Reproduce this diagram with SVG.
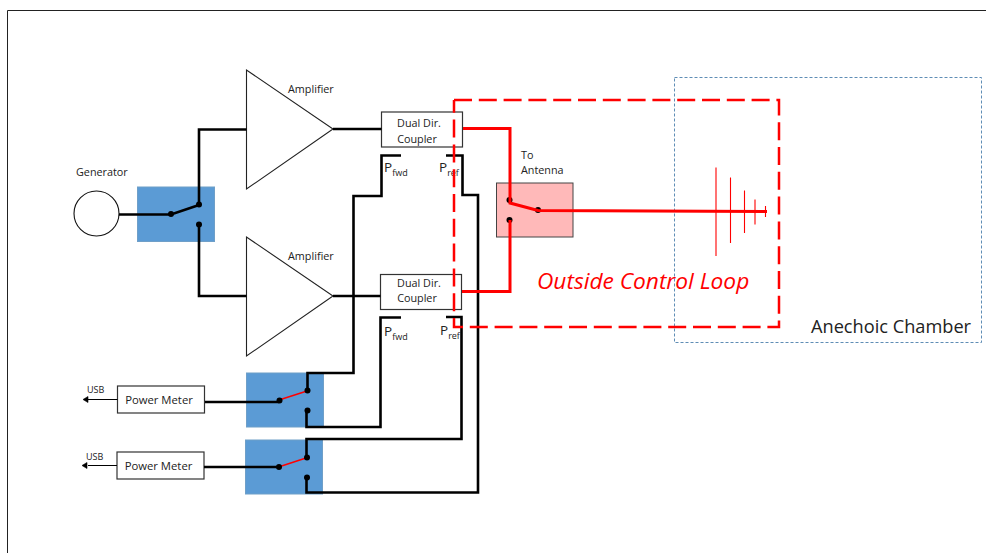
<svg xmlns="http://www.w3.org/2000/svg" width="986" height="553" viewBox="0 0 986 553">
<style>
text{font-family:"Open Sans","Noto Sans","Liberation Sans",sans-serif;fill:#222}
.l{font-size:10.800px}
.w{fill:none;stroke:#000;stroke-width:2.600}
.r{fill:none;stroke:#f00;stroke-width:3}
.t{fill:#fff;stroke:#222;stroke-width:1.100}
.b{fill:#5b9bd5;stroke:#6f9fc8;stroke-width:1}
.box{fill:#fff;stroke:#333;stroke-width:1.200}
.sub{font-size:9px}
.p{font-size:13.500px}
</style>
<rect x="0" y="0" width="986" height="553" fill="#fff"/>
<path d="M7.500 553V10.500H986" fill="none" stroke="#222" stroke-width="1"/>
<g id="chamber"><rect x="674.500" y="77.500" width="307" height="265" fill="none" stroke="#5f8db5" stroke-width="1" stroke-dasharray="3 2"/><text x="811" y="333" style="font-size:18.200px">Anechoic Chamber</text></g>
<g id="generator"><circle cx="96.500" cy="213.500" r="22.500" fill="#fff" stroke="#111" stroke-width="1.100"/><text x="76" y="176" class="l">Generator</text></g>
<g id="switch-in"><rect class="b" x="137.500" y="187" width="77" height="54.500"/></g>
<g id="amp1"><path class="t" d="M246.500 70V189L333 129Z"/><text x="288" y="93" class="l">Amplifier</text></g>
<g id="amp2"><path class="t" d="M246.500 237V356L333 296Z"/><text x="288" y="260" class="l">Amplifier</text></g>
<g id="coupler1"><rect class="box" x="381.500" y="112" width="81" height="35"/><text x="419" y="127" class="l" text-anchor="middle">Dual Dir.</text><text x="417" y="143" class="l" text-anchor="middle">Coupler</text></g>
<g id="coupler2"><rect class="box" x="380.500" y="274.500" width="81" height="35"/><text x="419" y="287" class="l" text-anchor="middle">Dual Dir.</text><text x="417" y="302" class="l" text-anchor="middle">Coupler</text></g>
<g id="antenna-switch"><rect x="496.500" y="183" width="76.500" height="54" fill="#ffb9b9" stroke="#444" stroke-width="1"/><text x="521" y="159" class="l">To</text><text x="521" y="174" class="l">Antenna</text></g>
<g id="meter1"><rect class="box" x="117.500" y="386" width="87" height="27"/><text x="159" y="404" style="font-size:11.300px" text-anchor="middle">Power Meter</text><text x="87" y="393" style="font-size:9px">USB</text></g>
<g id="meter2"><rect class="box" x="117" y="452" width="87" height="27"/><text x="158.500" y="470" style="font-size:11.300px" text-anchor="middle">Power Meter</text><text x="86" y="460" style="font-size:9px">USB</text></g>
<g id="switch-m1"><rect class="b" x="246.500" y="373" width="77" height="54"/></g>
<g id="switch-m2"><rect class="b" x="245.500" y="440" width="77" height="54"/></g>
<g id="labels">
<text x="384" y="172" class="p">P<tspan class="sub" dy="3.500">fwd</tspan></text>
<text x="439" y="172" class="p">P<tspan class="sub" dy="3.500">ref</tspan></text>
<text x="384" y="336" class="p">P<tspan class="sub" dy="3.500">fwd</tspan></text>
<text x="440" y="335" class="p">P<tspan class="sub" dy="3.500">ref</tspan></text>
<text x="537" y="289" style="font-size:22.700px;font-style:italic;fill:#f00">Outside Control Loop</text>
</g>
<g id="connectors">
<path class="w" d="M119 214.500H171L199 205M199 205V129.500H246.500M199 224.500V296H246.500M333 129H381.500M333 296H380.500"/>
<path class="w" d="M401 155.500H381.500V196H353.500V373H307.500V391M446 155.500H462.500V195H478V492.500H306.500V478M401 317.500H380.500V427H306.500V410M446 317H461.500V439H306.500V458"/>
<path class="w" d="M205 402H279M204 467H279"/>
<path d="M279 400L307 391M278.500 467L306 458" fill="none" stroke="#f00" stroke-width="1.500"/>
<path d="M88 399.500H117.500M88 465.500H117" fill="none" stroke="#000" stroke-width="1.200"/>
<path d="M88 396.500V402.500L83 399.500ZM87 462.500V468.500L82 465.500Z" fill="#000" stroke="#000" stroke-width=".6"/>
<g fill="#000"><circle cx="171" cy="214" r="3"/><circle cx="199" cy="204.500" r="3"/><circle cx="199" cy="224.500" r="3"/><circle cx="279.500" cy="400.500" r="3"/><circle cx="307.500" cy="390.500" r="3"/><circle cx="307.500" cy="410.500" r="3"/><circle cx="279" cy="467" r="3"/><circle cx="307" cy="457.500" r="3"/><circle cx="307" cy="477.500" r="3"/><circle cx="509.500" cy="200" r="3"/><circle cx="509.500" cy="220" r="3"/><circle cx="538" cy="210" r="3"/></g>
<path class="r" d="M463 128.500H510V203L538 210.500L767 211.500M462 291.500H510V220"/>
<path d="M716 167.500V256M730.500 177.500V243M744.500 190.500V233M755 199.500V224.500M765.500 206V217" fill="none" stroke="#f00" stroke-width="1.100"/>
<path d="M454 100H779V327H454V100" fill="none" stroke="#f00" stroke-width="2.500" stroke-dasharray="18 6.800"/>
</g>
</svg>
